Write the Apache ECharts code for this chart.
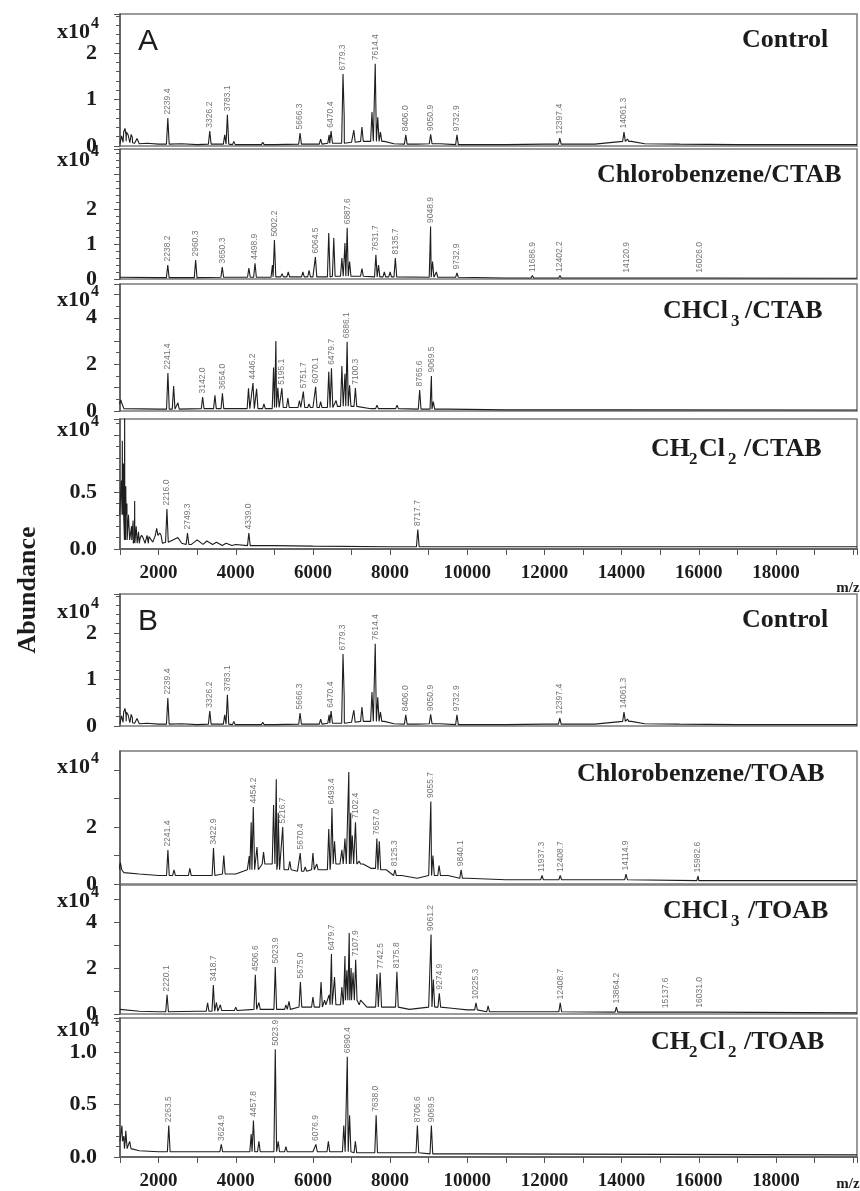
<!DOCTYPE html>
<html>
<head>
<meta charset="utf-8">
<script src="https://cdn.jsdelivr.net/npm/echarts@6/dist/echarts.min.js"></script>
<style>
  html, body { margin: 0; padding: 0; background: #fff; }
  #chart { width: 860px; height: 1191px; }
</style>
</head>
<body>
<div id="chart"></div>
<script>
// m/z tick labels on the bottom axes
const mzLabels = [2000, 4000, 6000, 8000, 10000, 12000, 14000, 16000, 18000];

// ---- Control (same spectrum shown in A and B), abundance in x10^4 ----
const controlBase = [[1000, 0.05], [1040, 0.22], [1080, 0.08], [1120, 0.3], [1160, 0.1], [1210, 0.24], [1260, 0.07],
  [1320, 0.18], [1380, 0.06], [1440, 0.16], [1500, 0.05], [1700, 0.06], [2000, 0.04], [2600, 0.05], [3000, 0.03],
  [3500, 0.04], [4200, 0.03], [5000, 0.03], [6000, 0.04], [6600, 0.06], [7000, 0.08], [7400, 0.1], [7850, 0.1],
  [8100, 0.05], [8700, 0.04], [9300, 0.05], [10000, 0.03], [11000, 0.03], [12000, 0.04], [13000, 0.04],
  [14250, 0.1], [14600, 0.05], [15500, 0.04], [17000, 0.03], [18500, 0.03], [20100, 0.03]];
const controlPeaks = [[1130, 0.38], [1190, 0.3], [1290, 0.25], [3714, 0.24], [3950, 0.1], [4700, 0.08],
  [6200, 0.15], [6420, 0.24], [6810, 0.65], [7060, 0.34], [7270, 0.41], [7530, 0.73], [7680, 0.62],
  [7750, 0.3], [13270, 0.08], [14150, 0.15]];
const controlTagged = [[2239.4, 0.6], [3326.2, 0.32], [3783.1, 0.67], [5666.3, 0.28], [6470.4, 0.32],
  [6779.3, 1.55], [7614.4, 1.77], [8406.0, 0.24], [9050.9, 0.25], [9732.9, 0.24], [12397.4, 0.17], [14061.3, 0.3]];

// ---- Chlorobenzene/CTAB ----
const cbCtabBase = [[1000, 0.05], [2000, 0.04], [4000, 0.05], [6000, 0.06], [7000, 0.08], [8000, 0.06],
  [9500, 0.05], [11000, 0.03], [14000, 0.03], [20100, 0.02]];
const cbCtabPeaks = [[4340, 0.31], [4950, 0.4], [5200, 0.15], [5360, 0.2], [5740, 0.2], [5900, 0.25],
  [6410, 1.31], [6540, 1.17], [6750, 0.6], [6830, 1.03], [6950, 0.5], [7270, 0.3], [7700, 0.4],
  [7850, 0.2], [8000, 0.2], [9100, 0.5], [9200, 0.2]];
const cbCtabTagged = [[2238.2, 0.4], [2960.3, 0.54], [3650.3, 0.34], [4498.9, 0.45], [5002.2, 1.11],
  [6064.5, 0.63], [6887.6, 1.46], [7631.7, 0.69], [8135.7, 0.6], [9048.9, 1.5], [9732.9, 0.17],
  [11686.9, 0.1], [12402.2, 0.1], [14120.9, 0.08], [16026.0, 0.08]];

// ---- CHCl3/CTAB ----
const chCtabBase = [[1000, 0.3], [1100, 0.1], [2000, 0.08], [4000, 0.1], [6000, 0.15], [7000, 0.2],
  [7500, 0.1], [9500, 0.08], [11000, 0.05], [14000, 0.05], [20100, 0.04]];
const chCtabPeaks = [[1020, 0.47], [2390, 1.07], [2500, 0.35], [3460, 0.67], [4330, 0.97], [4540, 0.95],
  [4730, 0.3], [4980, 1.87], [5040, 3.0], [5090, 1.0], [5350, 0.55], [5650, 0.45], [5900, 0.3],
  [6200, 0.4], [6410, 1.68], [6600, 0.45], [6750, 1.93], [6830, 1.6], [6950, 1.1], [7660, 0.25],
  [8180, 0.25], [9120, 0.4]];
const chCtabTagged = [[2241.4, 1.63], [3142.0, 0.6], [3654.0, 0.76], [4446.2, 1.2], [5195.1, 0.98],
  [5751.7, 0.83], [6070.1, 1.04], [6479.7, 1.83], [6886.1, 2.97], [7100.3, 0.98], [8765.6, 0.9], [9069.5, 1.5]];

// ---- CH2Cl2/CTAB ----
const dcmCtabBase = [[1000, 0.3], [1250, 0.08], [1500, 0.05], [1600, 0.1], [1650, 0.05], [1750, 0.11],
  [1850, 0.06], [2000, 0.12], [2100, 0.05], [2300, 0.06], [2500, 0.1], [2600, 0.05], [2850, 0.04],
  [3000, 0.08], [3150, 0.04], [3250, 0.07], [3400, 0.04], [3500, 0.06], [3650, 0.03], [3750, 0.05],
  [3900, 0.03], [4000, 0.04], [4500, 0.03], [5000, 0.03], [6000, 0.025], [8000, 0.02], [10000, 0.02], [20100, 0.02]];
const dcmCtabPeaks = [[1030, 0.6], [1060, 0.95], [1090, 0.75], [1120, 1.2], [1150, 0.55], [1180, 0.4],
  [1220, 0.3], [1300, 0.2], [1340, 0.25], [1380, 0.42], [1420, 0.2], [1480, 0.15], [1560, 0.12],
  [1700, 0.12], [1950, 0.18], [2030, 0.14]];
const dcmCtabTagged = [[2216.0, 0.35], [2749.3, 0.14], [4339.0, 0.14], [8717.7, 0.17]];

// ---- Chlorobenzene/TOAB ----
const cbToabBase = [[1000, 0.5], [1100, 0.4], [1500, 0.35], [2000, 0.3], [3000, 0.3], [4000, 0.35],
  [4300, 0.5], [4800, 0.7], [5300, 0.5], [5600, 0.45], [6200, 0.5], [6700, 0.7], [7300, 0.7],
  [7500, 0.55], [7900, 0.5], [8300, 0.3], [8700, 0.2], [9000, 0.3], [9500, 0.3], [10000, 0.2],
  [11000, 0.15], [13000, 0.15], [16000, 0.12], [20100, 0.12]];
const cbToabPeaks = [[1010, 0.75], [2400, 0.5], [2810, 0.55], [3690, 1.0], [4350, 0.98], [4400, 2.17],
  [4550, 1.3], [4720, 1.12], [4980, 2.77], [5050, 3.68], [5100, 2.5], [5400, 0.8], [5800, 0.6],
  [6000, 1.09], [6100, 0.7], [6410, 1.93], [6560, 1.5], [6750, 1.2], [6830, 1.6], [6930, 3.93],
  [6980, 2.5], [7020, 1.7], [7200, 0.8], [7720, 1.5], [9110, 1.0], [9270, 0.65]];
const cbToabTagged = [[2241.4, 1.19], [3422.9, 1.26], [4454.2, 2.7], [5216.7, 2.0], [5670.4, 1.09],
  [6493.4, 2.67], [7102.4, 2.17], [7657.0, 1.6], [8125.3, 0.5], [9055.7, 2.9], [9840.1, 0.5],
  [11937.3, 0.3], [12408.7, 0.3], [14114.9, 0.35], [15982.6, 0.28]];

// ---- CHCl3/TOAB ----
const chToabBase = [[1000, 0.2], [1500, 0.12], [2000, 0.1], [3000, 0.12], [4000, 0.15], [5000, 0.2],
  [6000, 0.3], [6500, 0.4], [7000, 0.6], [7400, 0.3], [8000, 0.3], [8500, 0.2], [9000, 0.3],
  [9600, 0.25], [10000, 0.18], [11000, 0.1], [14000, 0.08], [20100, 0.05]];
const chToabPeaks = [[3270, 0.48], [3500, 0.5], [3600, 0.4], [4000, 0.3], [4600, 0.5], [4900, 0.25],
  [5300, 0.4], [5380, 0.55], [5800, 0.35], [6000, 0.74], [6210, 1.39], [6300, 0.6], [6420, 0.83],
  [6560, 1.6], [6750, 1.17], [6830, 2.52], [6880, 1.9], [6940, 3.52], [6990, 2.0], [7040, 1.8],
  [7200, 0.4], [7660, 1.74], [9120, 1.5], [10540, 0.35]];
const chToabTagged = [[2220.1, 0.83], [3418.7, 1.26], [4506.6, 1.7], [5023.9, 2.04], [5675.0, 1.39],
  [6479.7, 2.6], [7107.9, 2.35], [7742.5, 1.8], [8175.8, 1.83], [9061.2, 3.45], [9274.9, 0.9],
  [10225.3, 0.48], [12408.7, 0.48], [13864.2, 0.3], [15137.6, 0.1], [16031.0, 0.12]];

// ---- CH2Cl2/TOAB ----
const dcmToabBase = [[1000, 0.15], [1200, 0.08], [1500, 0.06], [2000, 0.05], [4000, 0.05], [6000, 0.05],
  [8000, 0.04], [10000, 0.03], [20100, 0.02]];
const dcmToabPeaks = [[1050, 0.3], [1100, 0.2], [1150, 0.25], [1250, 0.15], [4400, 0.22], [4600, 0.15],
  [5100, 0.15], [5300, 0.1], [6400, 0.15], [6800, 0.3], [6950, 0.4], [7100, 0.15]];
const dcmToabTagged = [[2263.5, 0.3], [3624.9, 0.12], [4457.8, 0.35], [5023.9, 1.03], [6076.9, 0.12],
  [6890.4, 0.96], [7638.0, 0.4], [8706.6, 0.3], [9069.5, 0.3]];

// y tick labels that are printed in each panel
const yLabels3 = [0, 1, 2];
const yLabelsEven = [0, 2, 4];
const yLabelsB2 = [0, 2];
const yLabelsHalf = [0, 0.5];
const yLabelsHalf1 = [0, 0.5, 1];

// panel layout (pixels)
const panels = [
  { base: controlBase, peaks: controlPeaks, tagged: controlTagged, top: 14, zero: 146, max: 2.84, interval: 1, minor: 5, labels: yLabels3,
    title: [['Control', 742, 0]], x10: 32, ty: 40 },
  { base: cbCtabBase, peaks: cbCtabPeaks, tagged: cbCtabTagged, top: 149, zero: 279, max: 3.71, interval: 1, minor: 5, labels: yLabels3,
    title: [['Chlorobenzene/CTAB', 597, 0]], x10: 160, ty: 175 },
  { base: chCtabBase, peaks: chCtabPeaks, tagged: chCtabTagged, top: 284, zero: 411, max: 5.45, interval: 1, minor: 2, labels: yLabelsEven,
    title: [['CHCl', 663, 0], ['3', 731, 1], ['/CTAB', 745, 0]], x10: 300, ty: 311 },
  { base: dcmCtabBase, peaks: dcmCtabPeaks, tagged: dcmCtabTagged, top: 419, zero: 549, max: 1.14, interval: 0.5, minor: 5, labels: yLabelsHalf,
    title: [['CH', 651, 0], ['2', 689, 1], ['Cl', 699, 0], ['2', 728, 1], ['/CTAB', 744, 0]], x10: 430, ty: 449, axis: true, dec: true, mz: 588 },
  { base: controlBase, peaks: controlPeaks, tagged: controlTagged, top: 594, zero: 726, max: 2.84, interval: 1, minor: 5, labels: yLabels3,
    title: [['Control', 742, 0]], x10: 612, ty: 620 },
  { base: cbToabBase, peaks: cbToabPeaks, tagged: cbToabTagged, top: 751, zero: 884, max: 4.67, interval: 1, minor: 1, labels: yLabelsB2,
    title: [['Chlorobenzene/TOAB', 577, 0]], x10: 767, ty: 774 },
  { base: chToabBase, peaks: chToabPeaks, tagged: chToabTagged, top: 885, zero: 1014, max: 5.6, interval: 1, minor: 1, labels: yLabelsEven,
    title: [['CHCl', 663, 0], ['3', 731, 1], ['/TOAB', 748, 0]], x10: 901, ty: 911 },
  { base: dcmToabBase, peaks: dcmToabPeaks, tagged: dcmToabTagged, top: 1018, zero: 1162, max: 1.33, interval: 0.5, minor: 5, labels: yLabelsHalf1,
    title: [['CH', 651, 0], ['2', 689, 1], ['Cl', 699, 0], ['2', 728, 1], ['/TOAB', 744, 0]], x10: 1030, ty: 1042, axis: true, dec: true, mz: 1184 }
];

const H = 1191;
const LEFT = 120;
const FOOT = 35; // half width of a peak at its foot, in m/z
const SERIF = '"Liberation Serif", "Times New Roman", serif';
const INK = '#1c1c1c';

function footLevel(base, mz) {
  let best = base[0];
  base.forEach(p => { if (Math.abs(p[0] - mz) < Math.abs(best[0] - mz)) best = p; });
  return best[1];
}

function trace(base, peaks) {
  const pts = base.map(p => p.slice());
  peaks.forEach(([mz, h]) => {
    const b = footLevel(base, mz);
    pts.push([mz - FOOT, b], [mz, h], [mz + FOOT, b]);
  });
  return pts.sort((a, b) => a[0] - b[0]);
}

const grids = [], xAxes = [], yAxes = [], series = [], graphics = [];

function text(x, y, s, font, align, extra) {
  return Object.assign({
    type: 'text', x: x, y: y, silent: true,
    style: { text: s, font: font, fill: INK, align: align || 'left', verticalAlign: 'middle',
      textAlign: align || 'left', textVerticalAlign: 'middle' }
  }, extra || {});
}

panels.forEach((p, i) => {
  grids.push({
    left: LEFT, right: 3, top: p.top, bottom: H - p.zero,
    show: true, borderColor: '#7a7a7a', borderWidth: 1.5, backgroundColor: '#fff'
  });
  xAxes.push({
    type: 'value', gridIndex: i, min: 1000, max: 20100, interval: 1000,
    axisLine: { show: !!p.axis, onZero: false, lineStyle: { color: '#555', width: 1.5 } },
    axisTick: { show: !!p.axis, length: 6, lineStyle: { color: '#555' } },
    axisLabel: {
      show: !!p.axis, margin: 15,
      color: INK, fontFamily: SERIF, fontWeight: 'bold', fontSize: 19,
      formatter: v => mzLabels.includes(v) ? String(v) : ''
    },
    splitLine: { show: false }
  });
  yAxes.push({
    type: 'value', gridIndex: i, min: 0, max: p.max, interval: p.interval,
    axisLine: { show: true, lineStyle: { color: '#555', width: 1.5 } },
    axisTick: { show: true, length: 6, lineStyle: { color: '#555' } },
    minorTick: { show: p.minor > 1, splitNumber: p.minor, length: 4, lineStyle: { color: '#555' } },
    axisLabel: {
      margin: 23, color: INK, fontFamily: SERIF, fontWeight: 'bold', fontSize: 22,
      showMaxLabel: false,
      formatter: v => p.labels.some(l => Math.abs(l - v) < 1e-6) ? (p.dec ? v.toFixed(1) : String(v)) : ''
    },
    splitLine: { show: false }
  });
  series.push({
    type: 'line', xAxisIndex: i, yAxisIndex: i, silent: true, animation: false,
    showSymbol: false, clip: true,
    lineStyle: { color: '#1e1e1e', width: 1.1 },
    data: trace(p.base, p.peaks.concat(p.tagged))
  });
  series.push({
    type: 'scatter', xAxisIndex: i, yAxisIndex: i, silent: true, animation: false,
    symbolSize: 1, itemStyle: { color: 'rgba(0,0,0,0)' },
    label: {
      show: true, position: 'top', distance: 3, rotate: 90, align: 'left', verticalAlign: 'middle',
      fontFamily: '"Liberation Sans", Arial, sans-serif', fontSize: 8.5, color: '#505050',
      formatter: d => d.value[0].toFixed(1)
    },
    data: p.tagged
  });

  // x10^4 scale note
  graphics.push(text(57, p.x10, 'x10', 'bold 22px ' + SERIF));
  graphics.push(text(91, p.x10 - 8, '4', 'bold 16px ' + SERIF));

  // panel title (with subscripts)
  p.title.forEach(([s, x, sub]) => {
    graphics.push(sub
      ? text(x, p.ty + 11, s, 'bold 17px ' + SERIF)
      : text(x, p.ty, s, 'bold 26px ' + SERIF));
  });

  if (p.axis) {
    graphics.push(text(848, p.mz, 'm/z', 'bold 15px ' + SERIF, 'center'));
  }
});

graphics.push(text(138, 42, 'A', '30px "Liberation Sans", Arial, sans-serif'));
graphics.push(text(138, 622, 'B', '30px "Liberation Sans", Arial, sans-serif'));
graphics.push(text(28, 590, 'Abundance', 'bold 26px ' + SERIF, 'center', { rotation: Math.PI / 2 }));

const chart = echarts.init(document.getElementById('chart'), null, { renderer: 'canvas' });
chart.setOption({
  backgroundColor: '#fff',
  animation: false,
  grid: grids,
  xAxis: xAxes,
  yAxis: yAxes,
  series: series,
  graphic: graphics
});
</script>
</body>
</html>
